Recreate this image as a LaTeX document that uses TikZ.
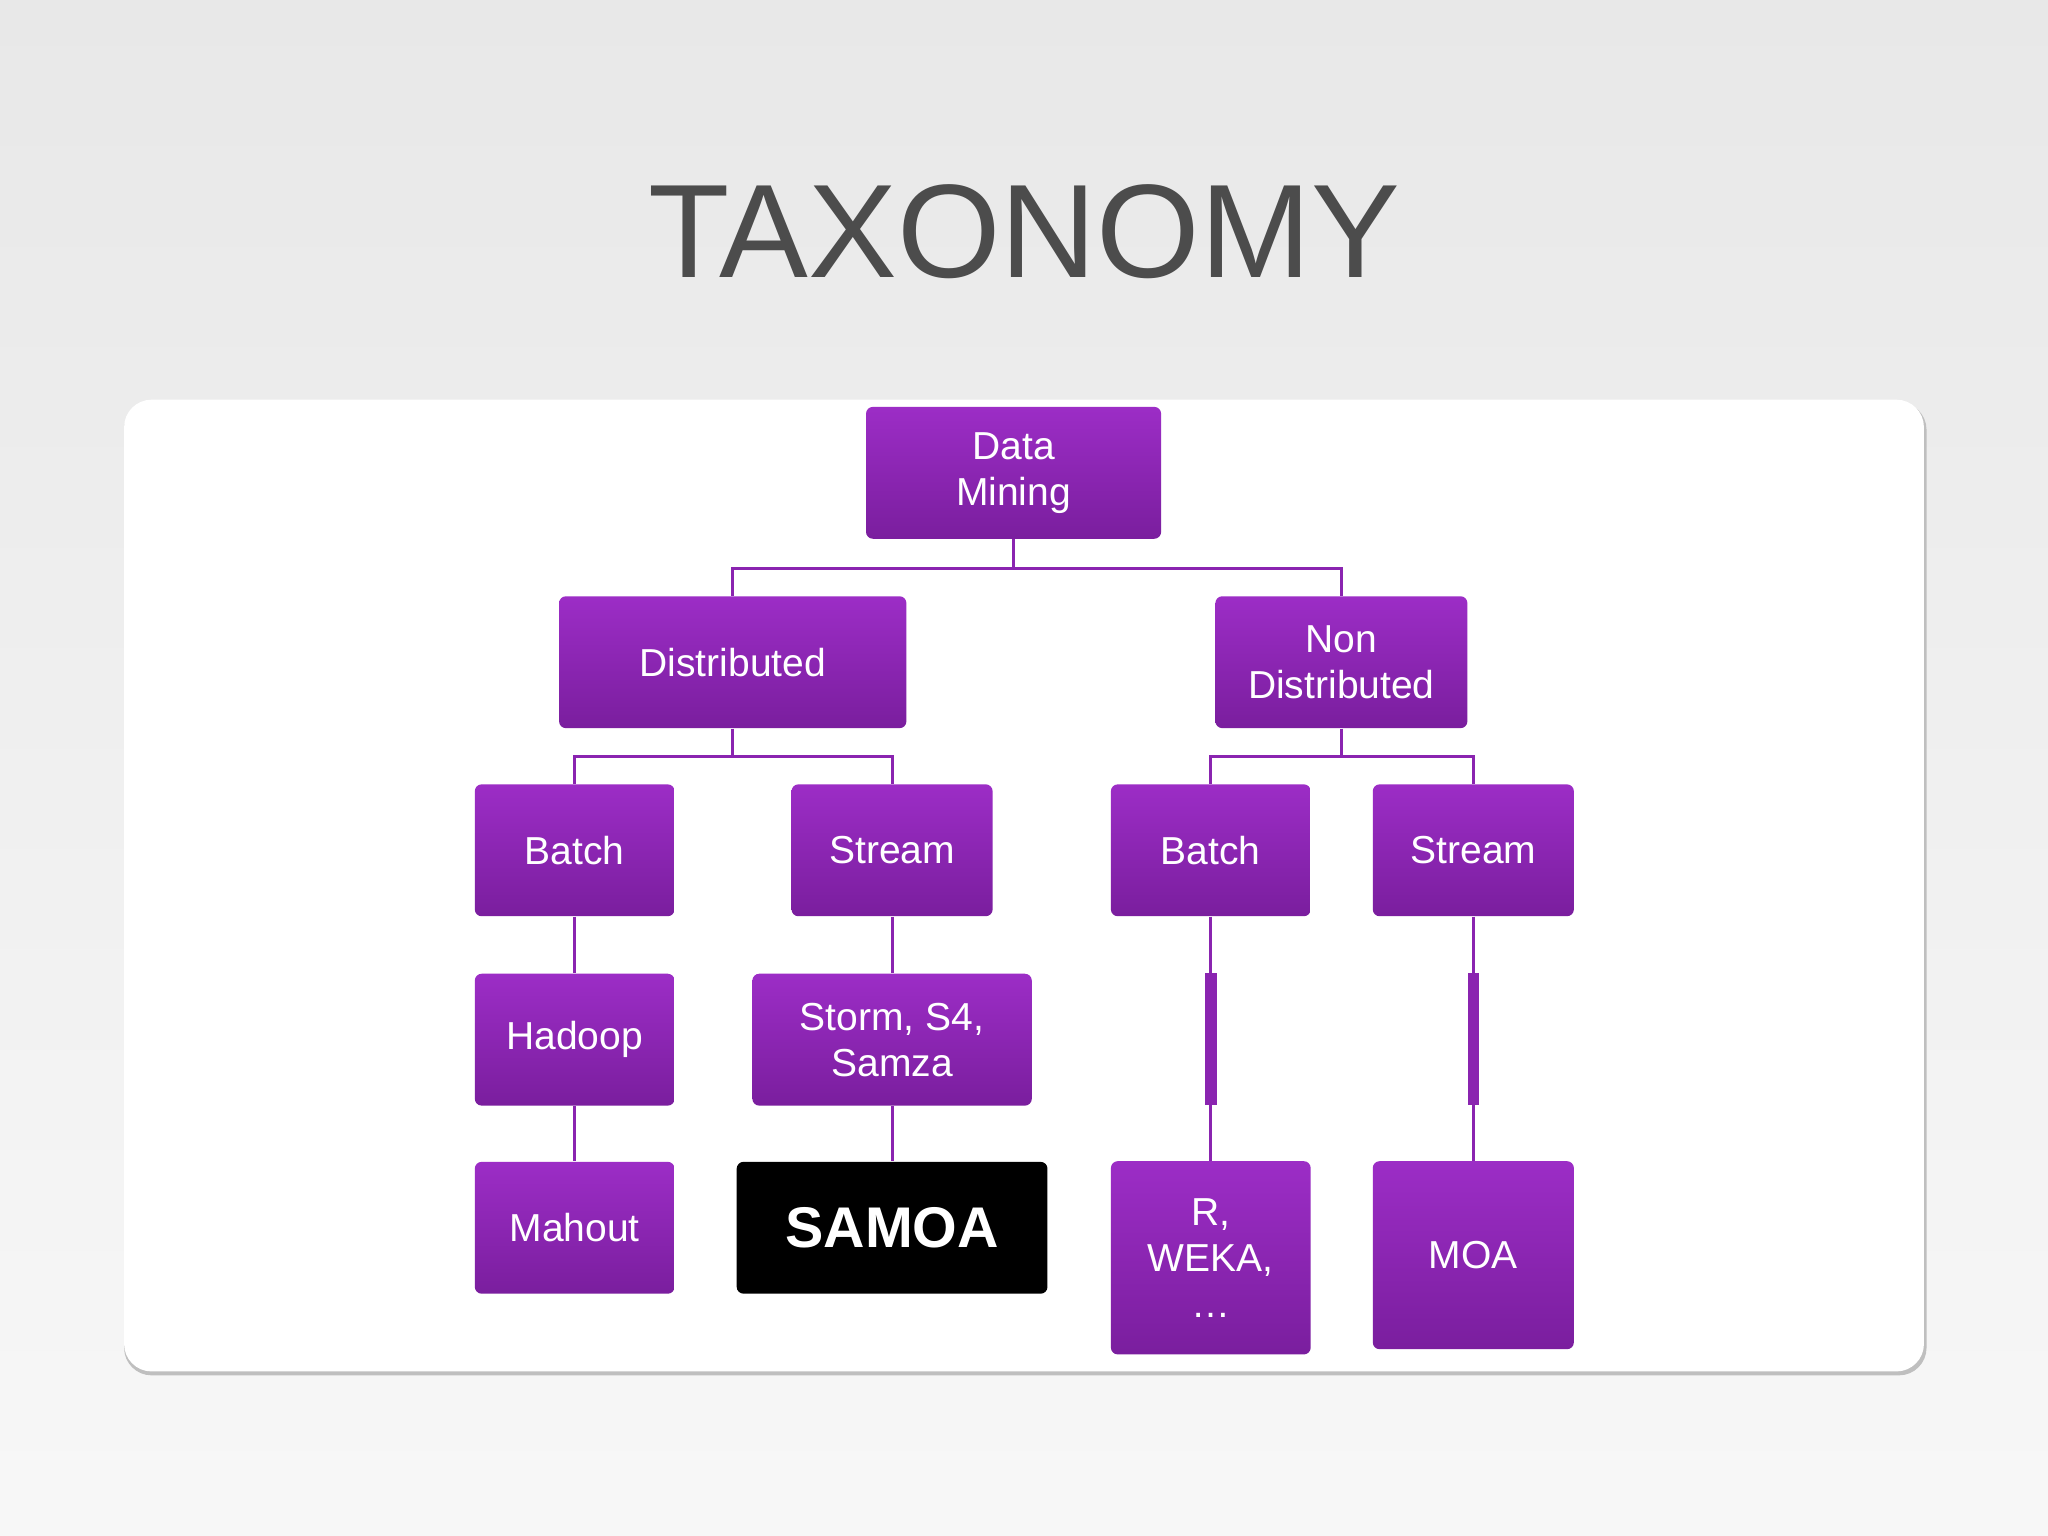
\documentclass[tikz,border=0pt]{standalone}
\usepackage{fontspec}
\setmainfont{Liberation Sans}
\begin{document}
\begin{tikzpicture}[x=0.02cm,y=-0.02cm,
 box/.style={rectangle,rounded corners=3pt,top color=pTop,bottom color=pBot,draw=none,text=white,font=\fontsize{17}{20}\selectfont,align=center,inner sep=0pt},
 ln/.style={draw=pLine,line width=1.3pt}]
\definecolor{pTop}{HTML}{9C2DC6}
\definecolor{pBot}{HTML}{7A1E9E}
\definecolor{pLine}{HTML}{8A24B0}
\shade[top color=gray!18,bottom color=gray!6] (0,0) rectangle (1568,1176);
\useasboundingbox (0,0) rectangle (1568,1176);
\node[text=black!70,font=\fontsize{58}{60}\selectfont] (title) at (784,177) {TAXONOMY};
\fill[black!25] (95,308) [rounded corners=12pt] rectangle (1475,1053);
\fill[white,rounded corners=12pt] (95,306) rectangle (1473,1050);
\newcommand\bx[6]{\node[box,minimum width=#4*0.02cm,minimum height=#5*0.02cm,#6] (#1) at (#2,#3) {};}
% boxes
\node[box,minimum width=4.52cm,minimum height=2.02cm] (dm) at (776,362) {Data\\Mining};
\node[box,minimum width=5.32cm,minimum height=2.02cm] (dist) at (561,507) {Distributed};
\node[box,minimum width=3.86cm,minimum height=2.02cm] (nd) at (1027,507) {Non\\Distributed};
\node[box,minimum width=3.06cm,minimum height=2.02cm] (b1) at (440,651) {Batch};
\node[box,minimum width=3.08cm,minimum height=2.02cm] (s1) at (683,651) {Stream};
\node[box,minimum width=3.06cm,minimum height=2.02cm] (b2) at (927,651) {Batch};
\node[box,minimum width=3.08cm,minimum height=2.02cm] (s2) at (1128,651) {Stream};
\node[box,minimum width=3.06cm,minimum height=2.02cm] (had) at (440,796) {Hadoop};
\node[box,minimum width=4.28cm,minimum height=2.02cm] (st) at (683,796) {Storm, S4,\\Samza};
\node[box,minimum width=3.06cm,minimum height=2.02cm] (mah) at (440,940) {Mahout};
\node[rectangle,rounded corners=3pt,fill=black,text=white,font=\bfseries\fontsize{25}{28}\selectfont,minimum width=4.76cm,minimum height=2.02cm] (sam) at (683,940) {SAMOA};
\node[box,minimum width=3.06cm,minimum height=2.96cm] (r) at (927,963) {R,\\WEKA,\\\dots};
\node[box,minimum width=3.08cm,minimum height=2.88cm] (moa) at (1128,961) {MOA};
% connectors
\coordinate (h1) at (776,435);
\draw[ln] (dm.south) -- (h1);
\draw[ln] (dist.north) |- (h1) -| (nd.north);
\coordinate (h2) at (561,579);
\draw[ln] (dist.south) -- (h2);
\draw[ln] (b1.north) |- (h2) -| (s1.north);
\coordinate (h3) at (1027,579);
\draw[ln] (nd.south) -- (h3);
\draw[ln] (b2.north) |- (h3) -| (s2.north);
\draw[ln] (b1) -- (had); \draw[ln] (had) -- (mah);
\draw[ln] (s1) -- (st); \draw[ln] (st) -- (sam);
\coordinate (t1) at (927,745); \coordinate (t2) at (927,846);
\coordinate (u1) at (1128,745); \coordinate (u2) at (1128,846);
\draw[ln] (b2) -- (t1); \draw[ln] (t2) -- (r);
\draw[draw=pLine,line width=5pt] (t1) -- (t2);
\draw[ln] (s2) -- (u1); \draw[ln] (u2) -- (moa);
\draw[draw=pLine,line width=5pt] (u1) -- (u2);
\end{tikzpicture}
\end{document}
